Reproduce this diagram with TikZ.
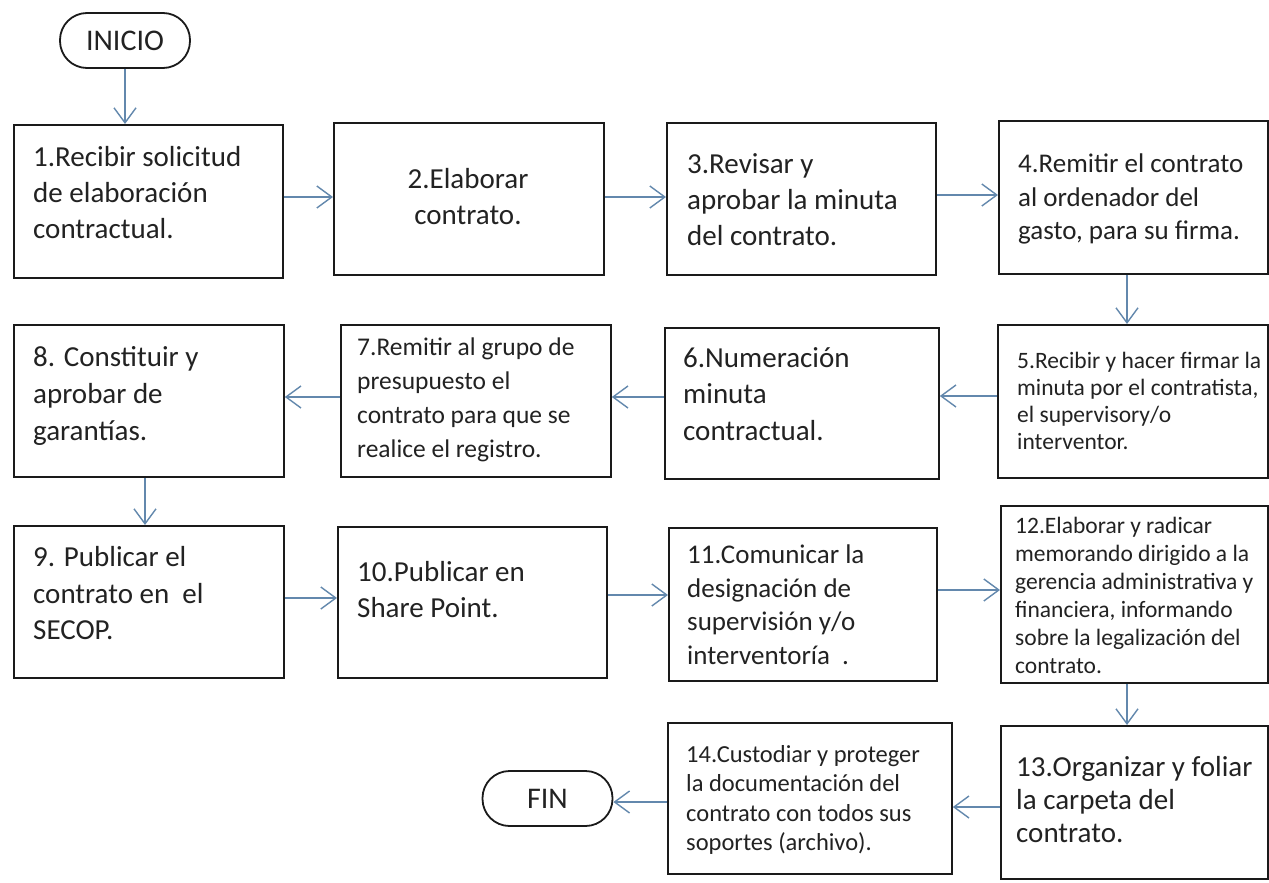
\documentclass[tikz,border=0pt]{standalone}
\usepackage{fontspec}
\setmainfont{Carlito}
\usetikzlibrary{arrows.meta,calc}
\definecolor{boxc}{HTML}{1A1A1A}
\definecolor{txtc}{HTML}{222222}
\definecolor{arrc}{HTML}{6388AD}
\tikzset{
  stepbox/.style={draw=boxc, line width=1.8pt, fill=white, inner sep=0pt, anchor=north west},
  term/.style={draw=boxc, line width=1.8pt, rounded corners=27pt, inner sep=0pt,
     minimum width=130pt, minimum height=55pt, text=txtc, font=\fontsize{30}{35}\selectfont},
  txt/.style={inner sep=0pt, align=left, anchor=north west, text=txtc},
  big/.style={font=\fontsize{29}{36}\selectfont},
  arr/.style={draw=arrc, line width=1.4pt, -{Straight Barb[length=15pt,width=22pt]}},
}
\begin{document}
\begin{tikzpicture}[x=1pt,y=-1pt]
\useasboundingbox[fill=white] (0,0) rectangle (1269,883);
% terminators
\node[term] (ini) at (125,40.5) {INICIO};
\node[term] (fin) at (547.5,798.5) {FIN};
% boxes
\node[stepbox, minimum width=269pt, minimum height=153pt] (b1) at (13,124) {};
\node[stepbox, minimum width=270pt, minimum height=152pt] (b2) at (333,122) {};
\node[stepbox, minimum width=269pt, minimum height=152pt] (b3) at (666,122) {};
\node[stepbox, minimum width=269pt, minimum height=153pt] (b4) at (998,120) {};
\node[stepbox, minimum width=270pt, minimum height=153pt] (b5) at (997,324) {};
\node[stepbox, minimum width=274pt, minimum height=151pt] (b6) at (664,327) {};
\node[stepbox, minimum width=270pt, minimum height=152pt] (b7) at (340,324) {};
\node[stepbox, minimum width=270pt, minimum height=152pt] (b8) at (13,324) {};
\node[stepbox, minimum width=270pt, minimum height=152pt] (b9) at (13,525) {};
\node[stepbox, minimum width=269pt, minimum height=151pt] (b10) at (337,526) {};
\node[stepbox, minimum width=268pt, minimum height=153pt] (b11) at (668,527) {};
\node[stepbox, minimum width=267pt, minimum height=177pt] (b12) at (1000,505) {};
\node[stepbox, minimum width=267pt, minimum height=153pt] (b13) at (1000,725) {};
\node[stepbox, minimum width=284pt, minimum height=151pt] (b14) at (667,722) {};
% texts
\node[txt, big] (t1) at (33,141) {\strut 1.Recibir solicitud\\de elaboración\\contractual.};
\node[txt, big, align=center, anchor=north] (t2) at (468,163.5) {\strut 2.Elaborar\\contrato.};
\node[txt, big] (t3) at (687,148.5) {\strut 3.Revisar y\\aprobar la minuta\\del contrato.};
\node[txt, font=\fontsize{27}{33.5}\selectfont] (t4) at (1018,149) {\strut 4.Remitir el contrato\\al ordenador del\\gasto, para su firma.};
\node[txt, font=\fontsize{23.5}{27}\selectfont] (t5) at (1017,349.1) {\strut 5.Recibir y hacer firmar la\\minuta por el contratista,\\el supervisory/o\\interventor.};
\node[txt, font=\fontsize{29}{36.5}\selectfont] (t6) at (683,341.5) {\strut 6.Numeración\\minuta\\contractual.};
\node[txt, font=\fontsize{25.5}{34}\selectfont] (t7) at (357,331.2) {\strut 7.Remitir al grupo de\\presupuesto el\\contrato para que se\\realice el registro.};
\node[txt, font=\fontsize{29}{37}\selectfont] (t8) at (33,340) {\strut 8. Constituir y\\aprobar de\\garantías.};
\node[txt, font=\fontsize{29}{36.5}\selectfont] (t9) at (33,541) {\strut 9. Publicar el\\contrato en\ \ el\\SECOP.};
\node[txt, big] (t10) at (357,556.5) {\strut 10.Publicar en\\Share Point.};
\node[txt, font=\fontsize{27}{33.5}\selectfont] (t11) at (687,540) {\strut 11.Comunicar la\\designación de\\supervisión y/o\\interventoría\ \ .};
\node[txt, font=\fontsize{23.5}{28}\selectfont] (t12) at (1015,513.4) {\strut 12.Elaborar y radicar\\memorando dirigido a la\\gerencia administrativa y\\financiera, informando\\sobre la legalización del\\contrato.};
\node[txt, font=\fontsize{29}{33}\selectfont] (t13) at (1016,753.5) {\strut 13.Organizar y foliar\\la carpeta del\\contrato.};
\node[txt, font=\fontsize{24.5}{29.5}\selectfont] (t14) at (686,741.5) {\strut 14.Custodiar y proteger\\la documentación del\\contrato con todos sus\\soportes (archivo).};
% connectors
\draw[arr] (ini.south) -- (ini.south |- b1.north);
\draw[arr] (b1.east |- 0,197) -- (b2.west |- 0,197);
\draw[arr] (b2.east |- 0,197) -- (b3.west |- 0,197);
\draw[arr] (b3.east |- 0,195) -- (b4.west |- 0,195);
\draw[arr] (b4.south -| 1127,0) -- (b5.north -| 1127,0);
\draw[arr] (b5.west |- 0,396) -- (b6.east |- 0,396);
\draw[arr] (b6.west |- 0,397) -- (b7.east |- 0,397);
\draw[arr] (b7.west |- 0,397) -- (b8.east |- 0,397);
\draw[arr] (b8.south -| 145,0) -- (b9.north -| 145,0);
\draw[arr] (b9.east |- 0,598) -- (b10.west |- 0,598);
\draw[arr] (b10.east |- 0,595) -- (b11.west |- 0,595);
\draw[arr] (b11.east |- 0,590) -- (b12.west |- 0,590);
\draw[arr] (b12.south -| 1127,0) -- (b13.north -| 1127,0);
\draw[arr] (b13.west |- 0,807) -- (b14.east |- 0,807);
\draw[arr] (b14.west |- 0,802) -- (fin.east |- 0,802);
\end{tikzpicture}
\end{document}
